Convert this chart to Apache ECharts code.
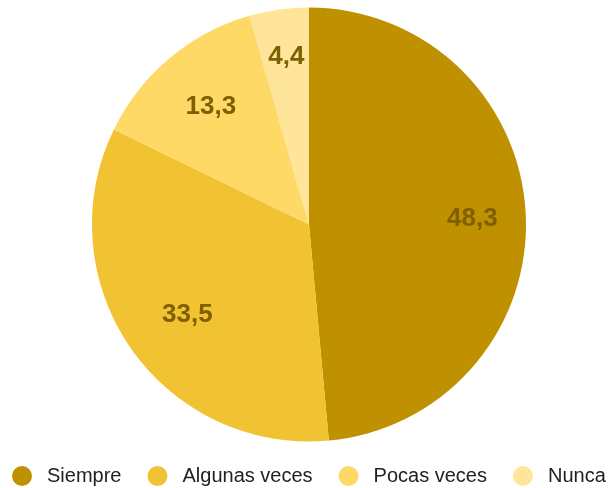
<!DOCTYPE html>
<html>
<head>
<meta charset="utf-8">
<script src="https://cdn.jsdelivr.net/npm/echarts@6/dist/echarts.min.js"></script>
<style>
html,body{margin:0;padding:0;background:#fff;}
#c{width:608px;height:488px;}
</style>
</head>
<body>
<div id="c"></div>
<script>
const categories = ['Siempre', 'Algunas veces', 'Pocas veces', 'Nunca'];
const values = [48.3, 33.5, 13.3, 4.4];
const colors = ['#BF9000', '#F1C232', '#FFD966', '#FFE599'];

// label nudges (style only)
const labelNudge = [[0, 2], [13, -3], [7, 8], [0, -6]];

const chart = echarts.init(document.getElementById('c'));
const center = [309, 224.5];
const R = 217;
chart.setOption({
  animation: false,
  color: colors,
  legend: {
    data: categories,
    top: 466,
    left: 12,
    padding: 0,
    icon: 'circle',
    itemWidth: 40,
    itemHeight: 20,
    itemGap: 26,
    textStyle: { fontFamily: 'Liberation Sans, Arial, sans-serif', fontSize: 20, color: '#222222' }
  },
  series: [
    {
      type: 'pie',
      center: center,
      radius: [0, R],
      startAngle: 90,
      clockwise: true,
      data: categories.map((name, i) => ({ name: name, value: values[i] })),
      label: { show: false },
      labelLine: { show: false },
      itemStyle: { borderWidth: 0 },
      emphasis: { disabled: true }
    },
    {
      type: 'pie',
      center: center,
      radius: [R * 0.48, R],
      startAngle: 90,
      clockwise: true,
      silent: true,
      data: categories.map((name, i) => ({ name: name, value: values[i], label: { offset: labelNudge[i] } })),
      itemStyle: { color: 'rgba(0,0,0,0)' },
      legendHoverLink: false,
      label: {
        show: true,
        position: 'inside',
        formatter: p => String(p.value).replace('.', ','),
        fontFamily: 'Liberation Sans, Arial, sans-serif',
        fontSize: 26,
        fontWeight: 'bold',
        color: '#7F6000'
      },
      labelLine: { show: false },
      emphasis: { disabled: true }
    }
  ]
});
</script>
</body>
</html>
